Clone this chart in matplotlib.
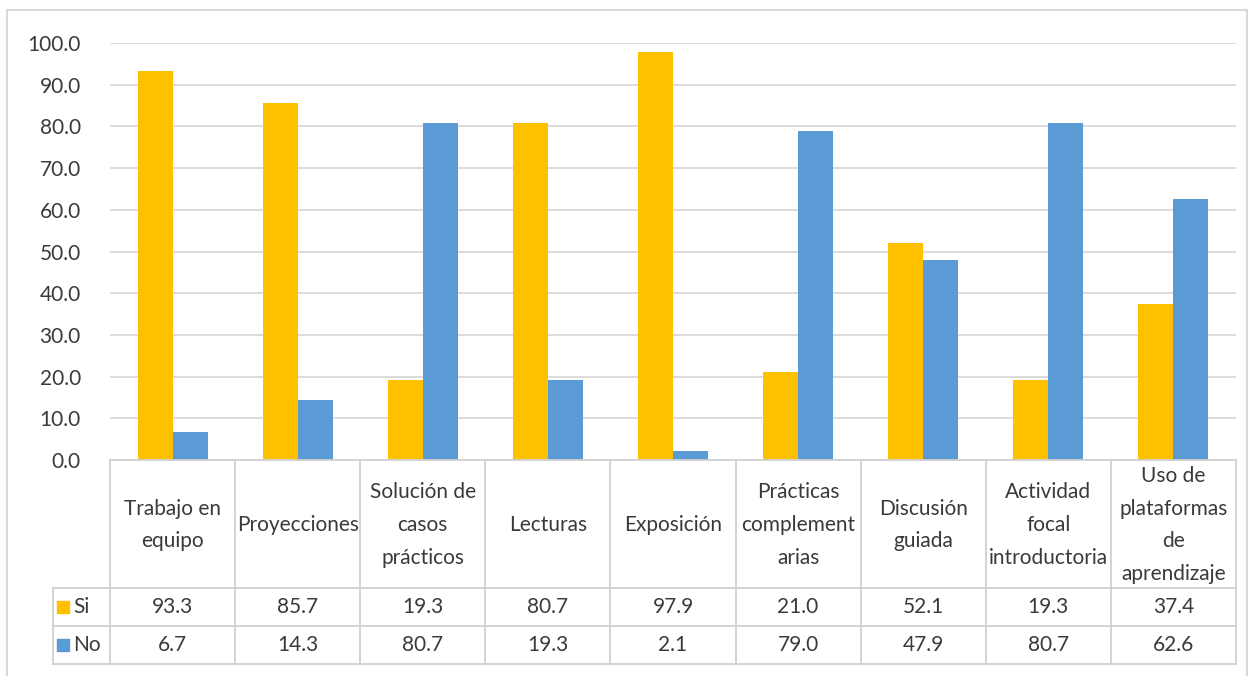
import matplotlib
matplotlib.use("Agg")
import matplotlib.pyplot as plt
import numpy as np
from matplotlib.patches import Rectangle

plt.rcParams["font.family"] = ["Lato", "DejaVu Sans"]

categories = ["Trabajo en\nequipo", "Proyecciones", "Solución de\ncasos\nprácticos",
              "Lecturas", "Exposición", "Prácticas\ncomplement\narias",
              "Discusión\nguiada", "Actividad\nfocal\nintroductoria",
              "Uso de\nplataformas\nde\naprendizaje"]
si = [93.3, 85.7, 19.3, 80.7, 97.9, 21.0, 52.1, 19.3, 37.4]
no = [6.7, 14.3, 80.7, 19.3, 2.1, 79.0, 47.9, 80.7, 62.6]
series = [("Si", si, "#FFC000"), ("No", no, "#5B9BD5")]

W, H = 1252, 676
fig = plt.figure(figsize=(W / 100, H / 100), dpi=100)

# pixel layout
x0, x1 = 110, 1236
y_top, y_zero = 43, 460
y_head, y_si, y_no = 588, 626, 664
leg_x0 = 53
grid_c = "#D9D9D9"
line_c = "#D0D0D0"
txt_c = "#3A3A3A"
fs = 15

# outer chart frame
fig.patches.append(Rectangle((7 / W, -0.01), (1247 - 7) / W, (H - 10) / H + 0.01,
                             transform=fig.transFigure, fill=False,
                             edgecolor="#D9D9D9", linewidth=1.5))

ax = fig.add_axes([x0 / W, (H - y_zero) / H, (x1 - x0) / W, (y_zero - y_top) / H])
n = len(categories)
x = np.arange(n)
bw = 0.28
ax.bar(x - bw / 2, si, bw, color="#FFC000", zorder=3)
ax.bar(x + bw / 2, no, bw, color="#5B9BD5", zorder=3)
ax.set_xlim(-0.5, n - 0.5)
ax.set_ylim(0, 100)
ax.set_yticks(np.arange(0, 101, 10))
ax.set_yticklabels([f"{v:.1f}" for v in np.arange(0, 101, 10)], fontsize=fs, color=txt_c)
ax.yaxis.grid(True, color=grid_c, linewidth=1.3, zorder=0)
ax.set_xticks([])
ax.tick_params(axis="y", length=0, pad=21)
for s in ax.spines.values():
    s.set_visible(False)

# data table below
tx = fig.add_axes([x0 / W, (H - y_no) / H, (x1 - x0) / W, (y_no - y_zero) / H])
tx.set_xlim(-0.5, n - 0.5)
tx.set_ylim(y_no, y_zero)
tx.axis("off")
col_w = (x1 - x0) / n
leg_left = -0.5 - (x0 - leg_x0) / col_w

kw = dict(color=line_c, linewidth=1.3, clip_on=False)
tx.plot([-0.5, n - 0.5], [y_zero, y_zero], **kw)
for yy in (y_head, y_si, y_no):
    tx.plot([leg_left, n - 0.5], [yy, yy], **kw)
for i in range(n + 1):
    tx.plot([i - 0.5, i - 0.5], [y_zero, y_no], **kw)
tx.plot([leg_left, leg_left], [y_head, y_no], **kw)

for i, lab in enumerate(categories):
    tx.text(i, (y_zero + y_head) / 2 + 1, lab, ha="center", va="center",
            fontsize=fs, color=txt_c, linespacing=1.8)

for (name, vals, col), (ya, yb) in zip(series, [(y_head, y_si), (y_si, y_no)]):
    ym = (ya + yb) / 2
    for i, v in enumerate(vals):
        tx.text(i, ym, f"{v:.1f}", ha="center", va="center", fontsize=fs, color=txt_c)
    tx.scatter([leg_left + 10 / col_w], [ym], marker="s", s=70, color=col, clip_on=False)
    tx.text(leg_left + 20 / col_w, ym, name, ha="left", va="center", fontsize=fs, color=txt_c)

fig.savefig("out.png", dpi=100)
